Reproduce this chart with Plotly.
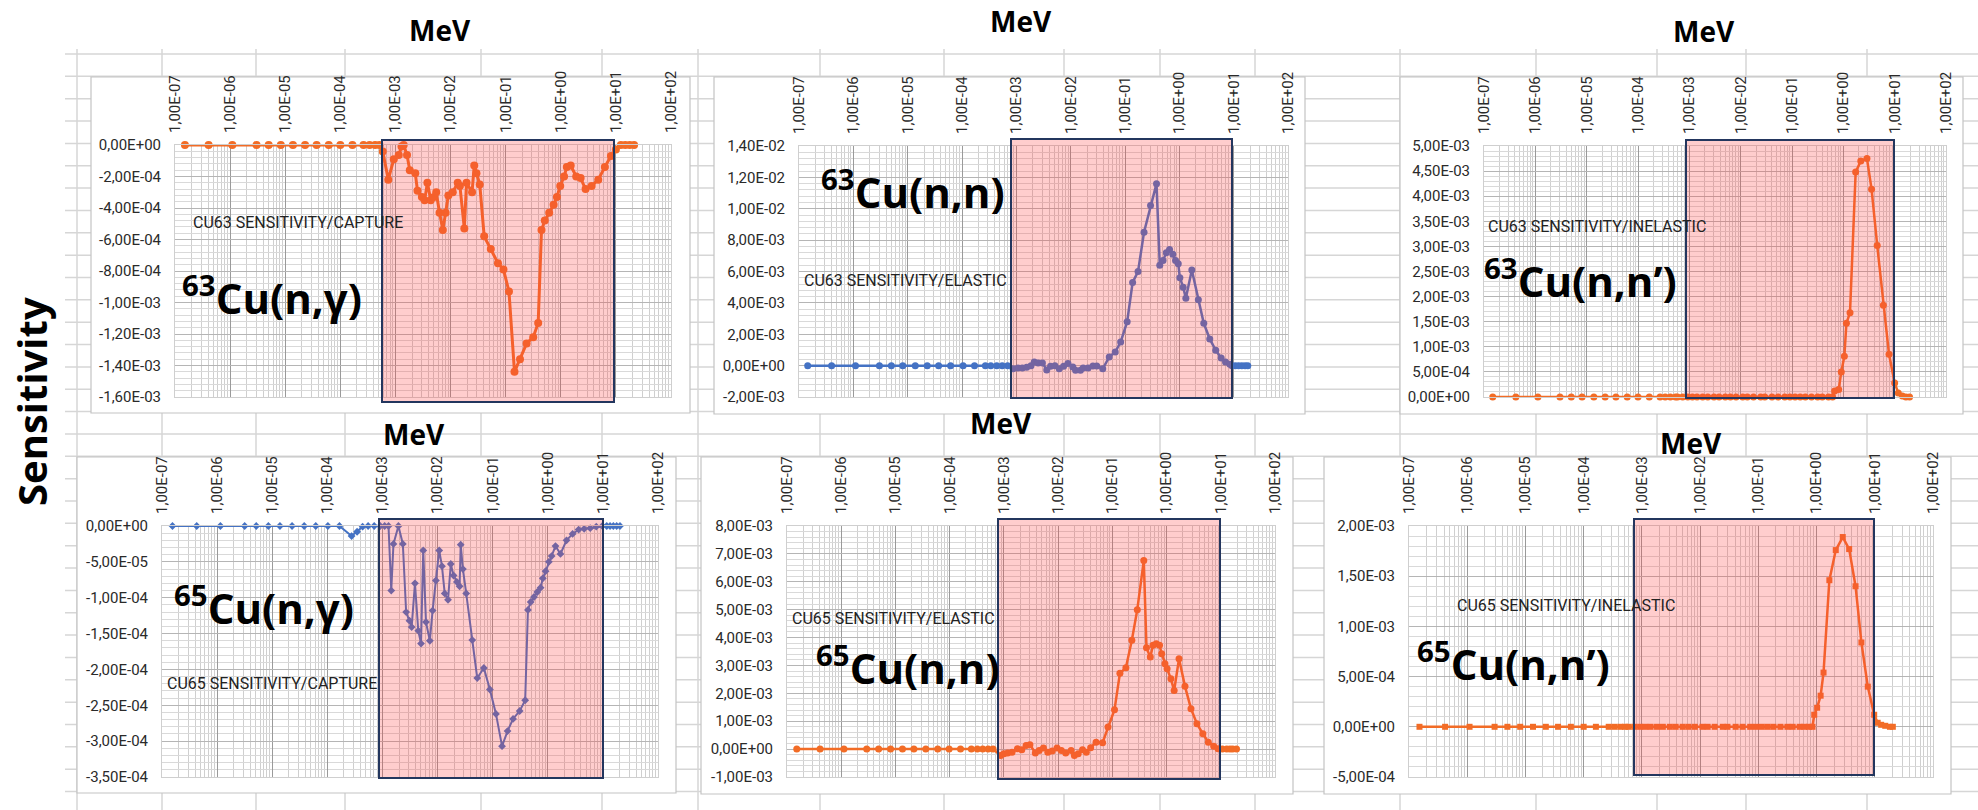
import plotly.graph_objects as go

# ---------------- DATA ----------------
# energies are stored as log10(E / MeV)
DECADE_LABELS = ["1,00E-07", "1,00E-06", "1,00E-05", "1,00E-04", "1,00E-03",
                 "1,00E-02", "1,00E-01", "1,00E+00", "1,00E+01", "1,00E+02"]

# 63Cu (n,gamma)
CU63_CAP_LOGE = [-6.82, -6.39, -5.96, -5.52, -5.30, -5.08, -4.86, -4.64, -4.43, -4.21, -4.00, -3.78, -3.58, -3.47, -3.37, -3.29,
                 -3.23, -3.13, -3.03, -2.94, -2.89, -2.85, -2.79, -2.74, -2.64, -2.60,
                 -2.52, -2.47, -2.42, -2.36, -2.30, -2.26, -2.20, -2.14, -2.09, -2.04,
                 -1.96, -1.87, -1.83, -1.75, -1.71, -1.61, -1.57, -1.53, -1.47, -1.39,
                 -1.27, -1.14, -1.04, -0.94, -0.84, -0.74, -0.62, -0.50, -0.41, -0.35,
                 -0.29, -0.21, -0.13, -0.07, -0.01, 0.06, 0.11, 0.18, 0.28, 0.36,
                 0.45, 0.56, 0.68, 0.80, 0.91, 1.00, 1.09, 1.17, 1.25, 1.33]
CU63_CAP = [0, 0, 0, 0, 0, 0, 0, 0, 0, 0, 0, 0, 0, 0, 0, 0,
            -0.42e-4, -2.2e-4, -0.9e-4, -0.64e-4, -0.1e-4, 0, -0.64e-4, -1.6e-4, -1.8e-4, -2.9e-4,
            -3.3e-4, -3.5e-4, -2.4e-4, -3.5e-4, -3.3e-4, -3.0e-4, -4.3e-4, -5.4e-4, -4.3e-4, -3.2e-4,
            -3.0e-4, -2.4e-4, -2.6e-4, -5.3e-4, -2.4e-4, -3.0e-4, -1.3e-4, -1.8e-4, -2.5e-4, -5.8e-4,
            -6.6e-4, -7.5e-4, -7.9e-4, -9.3e-4, -1.44e-3, -1.36e-3, -1.26e-3, -1.22e-3, -1.13e-3, -5.4e-4,
            -4.8e-4, -4.3e-4, -3.8e-4, -3.3e-4, -2.6e-4, -2.0e-4, -1.4e-4, -1.3e-4, -2.0e-4, -2.1e-4,
            -2.8e-4, -2.6e-4, -2.2e-4, -1.4e-4, -0.7e-4, -0.28e-4, 0, 0, 0, 0]

# 63Cu (n,n)
CU63_EL_LOGE = [-6.84, -6.40, -5.96, -5.52, -5.30, -5.09, -4.86, -4.64, -4.43, -4.21, -3.98, -3.77, -3.57, -3.47, -3.36, -3.26, -3.16,
                -3.06, -2.97, -2.89, -2.81, -2.73, -2.67, -2.60, -2.52, -2.44, -2.37,
                -2.29, -2.21, -2.13, -2.05, -1.96, -1.91, -1.82, -1.77, -1.68, -1.59,
                -1.52, -1.41, -1.29, -1.18, -1.08, -0.96, -0.86, -0.76, -0.65, -0.53,
                -0.42, -0.36, -0.30, -0.24, -0.18, -0.12, -0.07, -0.02, 0.01, 0.07,
                0.12, 0.23, 0.35, 0.45, 0.56, 0.67, 0.77, 0.85, 0.93, 0.97,
                1.03, 1.09, 1.15, 1.21, 1.26]
CU63_EL = [0, 0, 0, 0, 0, 0, 0, 0, 0, 0, 0, 0, 0, 0, 0, 0, 0,
           -2.0e-4, -1.5e-4, -1.5e-4, -1.0e-4, 0, 2.3e-4, 1.7e-4, 1.7e-4, -2.8e-4, -0.4e-4,
           0, -2.0e-4, -0.4e-4, 1.3e-4, -0.8e-4, -3.0e-4, -3.0e-4, -1.5e-4, -1.5e-4, -0.2e-4,
           -0.2e-4, -2.0e-4, 5.5e-4, 8.7e-4, 1.5e-3, 2.8e-3, 5.3e-3, 6.0e-3, 8.5e-3, 1.02e-2,
           1.16e-2, 6.4e-3, 6.7e-3, 7.2e-3, 7.4e-3, 7.1e-3, 6.7e-3, 6.5e-3, 5.6e-3, 5.0e-3,
           4.3e-3, 6.1e-3, 4.2e-3, 2.7e-3, 1.7e-3, 9.8e-4, 4.9e-4, 2.3e-4, 0.8e-4, 0,
           0, 0, 0, 0, 0]

# 63Cu (n,n')
CU63_INEL_LOGE = [-6.83, -6.38, -5.95, -5.52, -5.30, -5.09, -4.86, -4.64, -4.43, -4.21, -4.00, -3.78, -3.57, -3.47, -3.37, -3.27,
                  -3.23, -3.13, -3.03, -2.94, -2.85, -2.74, -2.64, -2.52, -2.42, -2.30,
                  -2.20, -2.09, -1.96, -1.87, -1.75, -1.61, -1.53, -1.39, -1.27, -1.14,
                  -1.04, -0.94, -0.84, -0.74, -0.62, -0.50, -0.41, -0.29, -0.21,
                  -0.17, -0.09, -0.04, 0.02, 0.06, 0.13, 0.24, 0.34, 0.46, 0.55,
                  0.66, 0.78, 0.89, 1.00, 1.07, 1.15, 1.22, 1.29]
CU63_INEL = [0, 0, 0, 0, 0, 0, 0, 0, 0, 0, 0, 0, 0, 0, 0, 0,
             0, 0, 0, 0, 0, 0, 0, 0, 0, 0,
             0, 0, 0, 0, 0, 0, 0, 0, 0, 0,
             0, 0, 0, 0, 0, 0, 0, 0, 0,
             1.2e-4, 1.5e-4, 5.0e-4, 8.1e-4, 1.47e-3, 1.68e-3, 4.48e-3, 4.70e-3, 4.75e-3, 4.14e-3,
             3.02e-3, 1.83e-3, 8.5e-4, 2.8e-4, 0.8e-4, 0.2e-4, 0, 0]

# 65Cu (n,gamma)
CU65_CAP_LOGE = [-6.81, -6.37, -5.94, -5.50, -5.29, -5.07, -4.86, -4.64, -4.42, -4.21, -3.99, -3.78,
                 -3.56, -3.46, -3.36, -3.26, -3.15, -3.04, -2.96, -2.89, -2.84, -2.80,
                 -2.71, -2.63, -2.57, -2.51, -2.47, -2.41, -2.35, -2.30, -2.26, -2.21,
                 -2.14, -2.09, -2.03, -1.97, -1.92, -1.87, -1.81, -1.76, -1.71, -1.65,
                 -1.60, -1.58, -1.54, -1.48, -1.37, -1.28, -1.16, -1.05, -0.94, -0.83,
                 -0.73, -0.63, -0.51, -0.41, -0.36, -0.31, -0.25, -0.19, -0.13, -0.09,
                 -0.04, 0.02, 0.07, 0.14, 0.23, 0.34, 0.45, 0.56, 0.66, 0.77,
                 0.88, 0.99, 1.07, 1.13, 1.19, 1.25, 1.31]
CU65_CAP = [0, 0, 0, 0, 0, 0, 0, 0, 0, 0, 0, 0,
            -1.4e-5, -0.8e-5, -0.1e-5, 0, 0, 0, 0, 0, -9.0e-5, -2.5e-5,
            0, -2.5e-5, -1.2e-4, -1.32e-4, -1.41e-4, -8.0e-5, -1.46e-4, -1.64e-4, -3.4e-5, -1.34e-4,
            -1.6e-4, -1.18e-4, -7.6e-5, -3.4e-5, -5.6e-5, -9.4e-5, -1.03e-4, -5.3e-5, -6.9e-5, -7.8e-5,
            -8.4e-5, -2.6e-5, -6.0e-5, -9.4e-5, -1.59e-4, -2.12e-4, -1.98e-4, -2.28e-4, -2.62e-4, -3.07e-4,
            -2.86e-4, -2.69e-4, -2.58e-4, -2.43e-4, -1.17e-4, -1.06e-4, -9.9e-5, -9.2e-5, -8.6e-5, -7.3e-5,
            -6.3e-5, -5.0e-5, -4.2e-5, -2.8e-5, -3.9e-5, -2.0e-5, -1.1e-5, -0.5e-5, -0.4e-5, -0.3e-5,
            -0.1e-5, 0, 0, 0, 0, 0, 0]

# 65Cu (n,n)
CU65_EL_LOGE = [-6.82, -6.39, -5.95, -5.53, -5.31, -5.09, -4.87, -4.66, -4.44, -4.22, -4.01, -3.80, -3.60, -3.49, -3.39, -3.29, -3.20,
                -3.06, -3.00, -2.93, -2.85, -2.75, -2.67, -2.59, -2.52, -2.42, -2.35,
                -2.27, -2.19, -2.11, -2.02, -1.94, -1.86, -1.76, -1.70, -1.63, -1.55,
                -1.48, -1.40, -1.30, -1.18, -1.08, -0.96, -0.86, -0.75, -0.64, -0.54,
                -0.42, -0.37, -0.30, -0.25, -0.19, -0.13, -0.09, -0.03, 0.01, 0.08,
                0.14, 0.23, 0.34, 0.45, 0.56, 0.67, 0.77, 0.87, 0.95, 1.03,
                1.11, 1.17, 1.22, 1.29]
CU65_EL = [0, 0, 0, 0, 0, 0, 0, 0, 0, 0, 0, 0, 0, 0, 0, 0, 0,
           -2.3e-4, -1.7e-4, -1.4e-4, -1.1e-4, 0.1e-4, -0.2e-4, 1.3e-4, 1.6e-4, -1.4e-4, -0.5e-4,
           0.4e-4, -1.1e-4, -0.7e-4, 0.4e-4, -0.5e-4, -1.4e-4, -0.5e-4, -2.3e-4, -1.7e-4, -0.2e-4,
           -1.1e-4, 0.5e-4, 2.5e-4, 2.3e-4, 7.9e-4, 1.41e-3, 2.72e-3, 2.92e-3, 3.90e-3, 5.00e-3,
           6.76e-3, 3.63e-3, 3.30e-3, 3.72e-3, 3.78e-3, 3.72e-3, 3.42e-3, 3.06e-3, 2.88e-3, 2.52e-3,
           2.10e-3, 3.24e-3, 2.25e-3, 1.45e-3, 9.1e-4, 5.5e-4, 2.5e-4, 1.0e-4, 0.1e-4, 0,
           0, 0, 0, 0]

# 65Cu (n,n')
CU65_INEL_LOGE = [-6.82, -6.38, -5.96, -5.53, -5.31, -5.09, -4.87, -4.65, -4.44, -4.22, -4.00, -3.79, -3.57,
                  -3.47, -3.37, -3.29, -3.23, -3.13, -3.03, -2.94, -2.85, -2.74, -2.64,
                  -2.52, -2.42, -2.30, -2.20, -2.09, -1.96, -1.87, -1.75, -1.61, -1.53,
                  -1.39, -1.27, -1.14, -1.04, -0.94, -0.84, -0.74, -0.62, -0.50, -0.41,
                  -0.29, -0.21, -0.13, -0.07,
                  -0.04, 0.01, 0.07, 0.12, 0.22, 0.33, 0.45, 0.56, 0.67, 0.77,
                  0.88, 0.99, 1.05, 1.11, 1.18, 1.26, 1.31]
CU65_INEL = [0, 0, 0, 0, 0, 0, 0, 0, 0, 0, 0, 0, 0,
             0, 0, 0, 0, 0, 0, 0, 0, 0, 0,
             0, 0, 0, 0, 0, 0, 0, 0, 0, 0,
             0, 0, 0, 0, 0, 0, 0, 0, 0, 0,
             0, 0, 0, 0,
             1.2e-4, 1.9e-4, 3.1e-4, 5.4e-4, 1.46e-3, 1.76e-3, 1.89e-3, 1.77e-3, 1.40e-3, 8.4e-4,
             4.0e-4, 1.2e-4, 0.4e-4, 0.2e-4, 0.1e-4, 0, 0]

Y_LABELS_CU63_CAP = ["0,00E+00", "-2,00E-04", "-4,00E-04", "-6,00E-04", "-8,00E-04",
                     "-1,00E-03", "-1,20E-03", "-1,40E-03", "-1,60E-03"]
Y_LABELS_CU63_EL = ["1,40E-02", "1,20E-02", "1,00E-02", "8,00E-03", "6,00E-03",
                    "4,00E-03", "2,00E-03", "0,00E+00", "-2,00E-03"]
Y_LABELS_CU63_INEL = ["5,00E-03", "4,50E-03", "4,00E-03", "3,50E-03", "3,00E-03", "2,50E-03",
                      "2,00E-03", "1,50E-03", "1,00E-03", "5,00E-04", "0,00E+00"]
Y_LABELS_CU65_CAP = ["0,00E+00", "-5,00E-05", "-1,00E-04", "-1,50E-04", "-2,00E-04",
                     "-2,50E-04", "-3,00E-04", "-3,50E-04"]
Y_LABELS_CU65_EL = ["8,00E-03", "7,00E-03", "6,00E-03", "5,00E-03", "4,00E-03",
                    "3,00E-03", "2,00E-03", "1,00E-03", "0,00E+00", "-1,00E-03"]
Y_LABELS_CU65_INEL = ["2,00E-03", "1,50E-03", "1,00E-03", "5,00E-04", "0,00E+00", "-5,00E-04"]

BIG_LABELS = ["<sup>63</sup>Cu(n,γ)", "<sup>63</sup>Cu(n,n)", "<sup>63</sup>Cu(n,n’)",
              "<sup>65</sup>Cu(n,γ)", "<sup>65</sup>Cu(n,n)", "<sup>65</sup>Cu(n,n’)"]
SERIES_NAMES = ["CU63 SENSITIVITY/CAPTURE", "CU63 SENSITIVITY/ELASTIC", "CU63 SENSITIVITY/INELASTIC",
                "CU65 SENSITIVITY/CAPTURE", "CU65 SENSITIVITY/ELASTIC", "CU65 SENSITIVITY/INELASTIC"]

for a, b in [(CU63_CAP_LOGE, CU63_CAP), (CU63_EL_LOGE, CU63_EL), (CU63_INEL_LOGE, CU63_INEL),
             (CU65_CAP_LOGE, CU65_CAP), (CU65_EL_LOGE, CU65_EL), (CU65_INEL_LOGE, CU65_INEL)]:
    assert len(a) == len(b), (len(a), len(b))

# ---------------- LAYOUT / STYLE ----------------
W, H = 1978, 810
def fx(p): return p / W
def fy(p): return 1 - p / H

ORANGE = "#F26C26"
BLUE = "#4472C4"

panels = [
    dict(loge=CU63_CAP_LOGE, y=CU63_CAP, ylab=Y_LABELS_CU63_CAP, color=ORANGE, symbol="circle", msize=8, lw=3,
         plot=(175, 671, 145, 397), box=(91, 690, 77, 413), pink=(382, 614, 140, 402),
         mev=(440, 30), big=(180, 295), small=(191, 223), yminor=4e-5),
    dict(loge=CU63_EL_LOGE, y=CU63_EL, ylab=Y_LABELS_CU63_EL, color=BLUE, symbol="circle", msize=7, lw=2.5,
         plot=(799, 1288, 146, 397), box=(714, 1305, 77, 414), pink=(1011, 1232, 139, 398),
         mev=(1021, 21), big=(819, 190), small=(802, 280), yminor=4e-4),
    dict(loge=CU63_INEL_LOGE, y=CU63_INEL, ylab=Y_LABELS_CU63_INEL, color=ORANGE, symbol="circle", msize=7, lw=2.5,
         plot=(1484, 1946, 146, 397), box=(1400, 1963, 77, 414), pink=(1686, 1894, 140, 398),
         mev=(1704, 31), big=(1482, 278), small=(1486, 227), yminor=1e-4),
    dict(loge=CU65_CAP_LOGE, y=CU65_CAP, ylab=Y_LABELS_CU65_CAP, color=BLUE, symbol="diamond", msize=6, lw=2,
         plot=(162, 658, 526, 777), box=(77, 676, 457, 793), pink=(379, 603, 519, 778),
         mev=(414, 434), big=(172, 605), small=(165, 683), yminor=1e-5),
    dict(loge=CU65_EL_LOGE, y=CU65_EL, ylab=Y_LABELS_CU65_EL, color=ORANGE, symbol="circle", msize=7, lw=2.5,
         plot=(787, 1275, 526, 777), box=(701, 1293, 457, 794), pink=(998, 1220, 519, 779),
         mev=(1001, 423), big=(814, 665), small=(790, 618), yminor=2e-4),
    dict(loge=CU65_INEL_LOGE, y=CU65_INEL, ylab=Y_LABELS_CU65_INEL, color=ORANGE, symbol="square", msize=6, lw=2.5,
         plot=(1409, 1933, 526, 777), box=(1324, 1951, 457, 794), pink=(1634, 1874, 519, 775),
         mev=(1691, 443), big=(1415, 661), small=(1455, 605), yminor=1e-4),
]

DECADE_VALS = [float(s.replace(",", ".")) for s in DECADE_LABELS]
MINOR_X = [m * d for d in DECADE_VALS[:-1] for m in range(2, 10)]

fig = go.Figure()
shapes = []
annotations = []

# spreadsheet background grid
GRID_COLS = [77, 162, 256, 345, 481, 602, 698, 820, 944, 1064, 1160, 1255, 1400, 1536, 1657, 1746, 1867]
row = 54.0
while row < H:
    shapes.append(dict(type="line", xref="paper", yref="paper", x0=fx(65), x1=1, y0=fy(row), y1=fy(row),
                       line=dict(color="#d6d6d6", width=1.5), layer="below"))
    row += 22.35
for c in GRID_COLS:
    shapes.append(dict(type="line", xref="paper", yref="paper", x0=fx(c), x1=fx(c), y0=fy(49), y1=0,
                       line=dict(color="#d6d6d6", width=1.5), layer="below"))

layout = dict(width=W, height=H, margin=dict(l=0, r=0, t=0, b=0),
              paper_bgcolor="white", plot_bgcolor="rgba(0,0,0,0)", showlegend=False)

TICK_FONT = dict(family="Roboto", size=15, color="#2a2a2a")

for i, p in enumerate(panels, start=1):
    xs = [10 ** v for v in p["loge"]]
    fig.add_trace(go.Scatter(x=xs, y=p["y"], mode="lines+markers", xaxis=f"x{i}", yaxis=f"y{i}",
                             line=dict(color=p["color"], width=p["lw"]),
                             marker=dict(color=p["color"], size=p["msize"], symbol=p["symbol"]),
                             cliponaxis=False, name=SERIES_NAMES[i - 1]))
    x0, x1, y0, y1 = p["plot"]
    yvals = [float(s.replace(",", ".")) for s in p["ylab"]]
    layout[f"xaxis{i}"] = dict(
        type="log", range=[-7, 2], domain=[fx(x0), fx(x1)], anchor=f"y{i}", side="top",
        tickmode="array", tickvals=DECADE_VALS, ticktext=DECADE_LABELS, tickangle=-90,
        tickfont=TICK_FONT, ticks="", ticklabelstandoff=8,
        showgrid=True, gridcolor="#9a9a9a", gridwidth=1,
        minor=dict(tickmode="array", tickvals=MINOR_X, showgrid=True, gridcolor="#cfcfcf", gridwidth=1, ticks=""),
        showline=True, linecolor="#cfcfcf", mirror=True, zeroline=False, automargin=False, fixedrange=True)
    layout[f"yaxis{i}"] = dict(
        range=[min(yvals), max(yvals)], domain=[fy(y1), fy(y0)], anchor=f"x{i}",
        tickmode="array", tickvals=yvals, ticktext=p["ylab"],
        tickfont=TICK_FONT, ticks="", ticklabelstandoff=10,
        showgrid=True, gridcolor="#b5b5b5", gridwidth=1,
        minor=dict(tick0=0, dtick=p["yminor"], showgrid=True, gridcolor="#d9d9d9", gridwidth=1, ticks=""),
        showline=True, linecolor="#cfcfcf", mirror=True, zeroline=False, automargin=False, fixedrange=True)

    bx0, bx1, by0, by1 = p["box"]
    shapes.append(dict(type="rect", xref="paper", yref="paper", x0=fx(bx0), x1=fx(bx1), y0=fy(by1), y1=fy(by0),
                       fillcolor="white", line=dict(color="#c4c4c4", width=1.2), layer="below"))
    px0, px1, py0, py1 = p["pink"]
    shapes.append(dict(type="rect", xref="paper", yref="paper", x0=fx(px0), x1=fx(px1), y0=fy(py1), y1=fy(py0),
                       fillcolor="rgba(255,60,60,0.26)", line=dict(color="#23365e", width=2), layer="above"))

    mx, my = p["mev"]
    annotations.append(dict(text="<b>MeV</b>", x=fx(mx), y=fy(my), xref="paper", yref="paper",
                            xanchor="center", yanchor="middle", showarrow=False,
                            font=dict(family="Open Sans", size=28, color="black")))
    bgx, bgy = p["big"]
    annotations.append(dict(text="<b>" + BIG_LABELS[i - 1] + "</b>", x=fx(bgx), y=fy(bgy), xref="paper", yref="paper",
                            xanchor="left", yanchor="middle", showarrow=False,
                            font=dict(family="Open Sans", size=42, color="black")))
    sx, sy = p["small"]
    annotations.append(dict(text=SERIES_NAMES[i - 1], x=fx(sx), y=fy(sy), xref="paper", yref="paper",
                            xanchor="left", yanchor="middle", showarrow=False,
                            font=dict(family="Roboto", size=16, color="#222222")))

annotations.append(dict(text="<b>Sensitivity</b>", x=fx(32), y=fy(402), xref="paper", yref="paper",
                        xanchor="center", yanchor="middle", textangle=-90, showarrow=False,
                        font=dict(family="Open Sans", size=40, color="black")))

layout["shapes"] = shapes
layout["annotations"] = annotations
fig.update_layout(**layout)
fig.write_html("out.html")
